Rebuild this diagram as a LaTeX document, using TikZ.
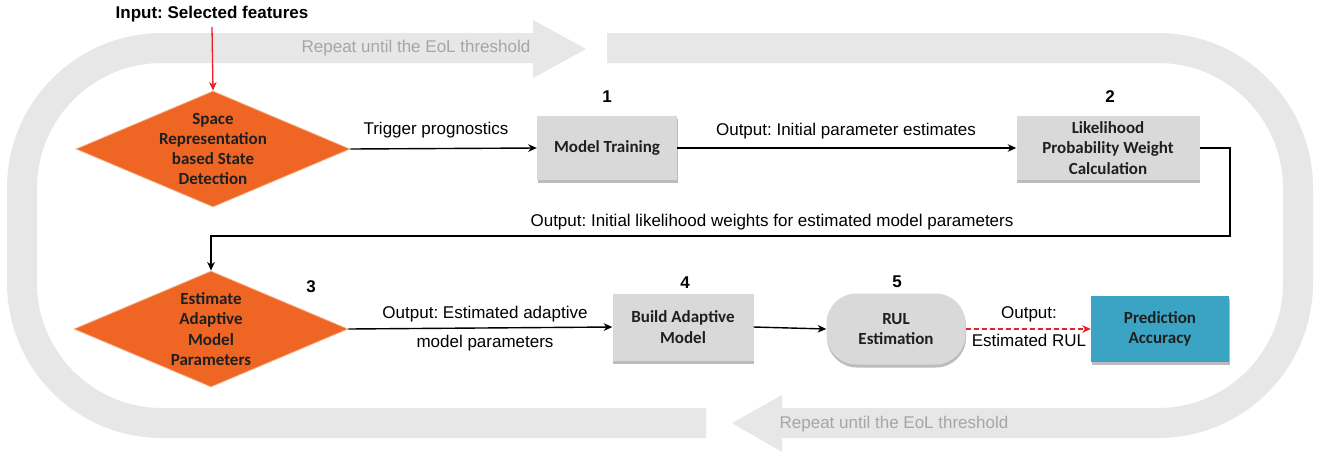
\documentclass[tikz,border=0pt]{standalone}
\usepackage{fontspec}
\setmainfont{Liberation Sans}
\newfontfamily\boxfont{Carlito}
\usetikzlibrary{shapes.geometric,arrows.meta,shadows}
\definecolor{band}{HTML}{E7E7E7}
\definecolor{bandtext}{HTML}{A6A6A6}
\definecolor{boxgray}{HTML}{D9D9D9}
\definecolor{orng}{HTML}{EF6523}
\definecolor{orngedge}{HTML}{F6B48C}
\definecolor{myteal}{HTML}{3BA3C4}
\definecolor{redarrow}{HTML}{E8202A}
\definecolor{shadowgray}{HTML}{ABABAB}
\frenchspacing
\begin{document}
\begin{tikzpicture}[x=1pt,y=-1pt,
  bandline/.style={line width=30pt, draw=band, rounded corners=140pt},
  bandlabel/.style={text=bandtext, font=\fontsize{17}{20}\selectfont, inner sep=0pt},
  conn/.style={line width=1.4pt, -{Stealth[length=8.5pt,width=7.5pt,inset=2.5pt]}},
  lbl/.style={font=\fontsize{17}{20}\selectfont, inner sep=0pt, align=center},
  num/.style={font=\bfseries\fontsize{17}{20}\selectfont, inner sep=0pt},
  dshape/.style={diamond, fill=orng, draw=orngedge, line width=0.8pt, inner sep=0pt, minimum width=274pt, minimum height=116pt},
  dtext/.style={font=\boxfont\bfseries\fontsize{17}{20.3}\selectfont, align=center, inner sep=0pt, text=black!88},
  gbox/.style={rectangle, fill=boxgray, inner sep=0pt, align=center, font=\boxfont\bfseries\fontsize{17}{20.3}\selectfont, text=black!88, drop shadow={shadow xshift=0.5pt, shadow yshift=-3pt, fill=shadowgray, opacity=0.8}},
]
\useasboundingbox (0,0) rectangle (1319,456);

% background loop band
\draw[bandline] (534,48) -- (22,48) -- (22,423) -- (706,423);
\draw[bandline] (607,48) -- (1298,48) -- (1298,423) -- (781,423);
\fill[band] (533,20) -- (586,49) -- (533,78) -- cycle;
\fill[band] (782,395) -- (732,423) -- (782,452) -- cycle;
\node[bandlabel] (rep1) at (416,48) {Repeat until the EoL threshold};
\node[bandlabel] (rep2) at (894,424) {Repeat until the EoL threshold};

% nodes
\node[lbl, font=\bfseries\fontsize{17}{20}\selectfont] (inp) at (212,14) {Input: Selected features};
\node[dshape] (d1) at (213,149) {};
\node[dtext] (d1t) at (213,149) {Space\\Representation\\based State\\Detection};
\node[gbox, minimum width=140pt, minimum height=64pt] (b1) at (607,148) {Model Training};
\node[gbox, minimum width=183pt, minimum height=64pt] (b2) at (1108,148) {Likelihood\\Probability Weight\\Calculation};
\node[dshape] (d2) at (211,329) {};
\node[dtext] (d2t) at (211,329) {Estimate\\Adaptive\\Model\\Parameters};
\node[gbox, minimum width=141pt, minimum height=67pt] (b4) at (683,327) {Build Adaptive\\Model};
\node[gbox, rounded corners=30pt, minimum width=139pt, minimum height=71pt] (b5) at (896,329) {RUL\\Estimation};
\node[gbox, fill=myteal, minimum width=138pt, minimum height=66pt] (b6) at (1160,329) {Prediction\\Accuracy};

% step numbers
\node[num] (n1) at (607,97) {1};
\node[num] (n2) at (1110,97) {2};
\node[num] (n3) at (311,287) {3};
\node[num] (n4) at (685,283) {4};
\node[num] (n5) at (897,282) {5};

% connectors
\coordinate (c0) at (212,27);
\draw[conn, draw=redarrow, line width=1.3pt] (c0) -- (d1.north);
\draw[conn] (d1.east) -- (b1.west);
\node[lbl] (l1) at (436,130) {Trigger prognostics};
\draw[conn] (b1.east) -- (b2.west);
\node[lbl] (l2) at (846,131) {Output: Initial parameter estimates};
\coordinate (c1) at (1230,148);
\coordinate (c2) at (1230,236);
\coordinate (c3) at (211,236);
\draw[conn] (b2.east) -- (c1) -- (c2) -- (c3) -- (d2.north);
\node[lbl] (l3) at (772,222) {Output: Initial likelihood weights for estimated model parameters};
\draw[conn] (d2.east) -- (b4.west);
\node[lbl] (l4) at (485,329) {Output: Estimated adaptive\\[9pt]model parameters};
\draw[conn] (b4.east) -- (b5.west);
\draw[conn, draw=redarrow, dash pattern=on 5pt off 3pt, line width=1.8pt] (b5.east) -- (b6.west);
\node[lbl] (l5) at (1029,327) {Output:\\[8pt]Estimated RUL};
\end{tikzpicture}
\end{document}
